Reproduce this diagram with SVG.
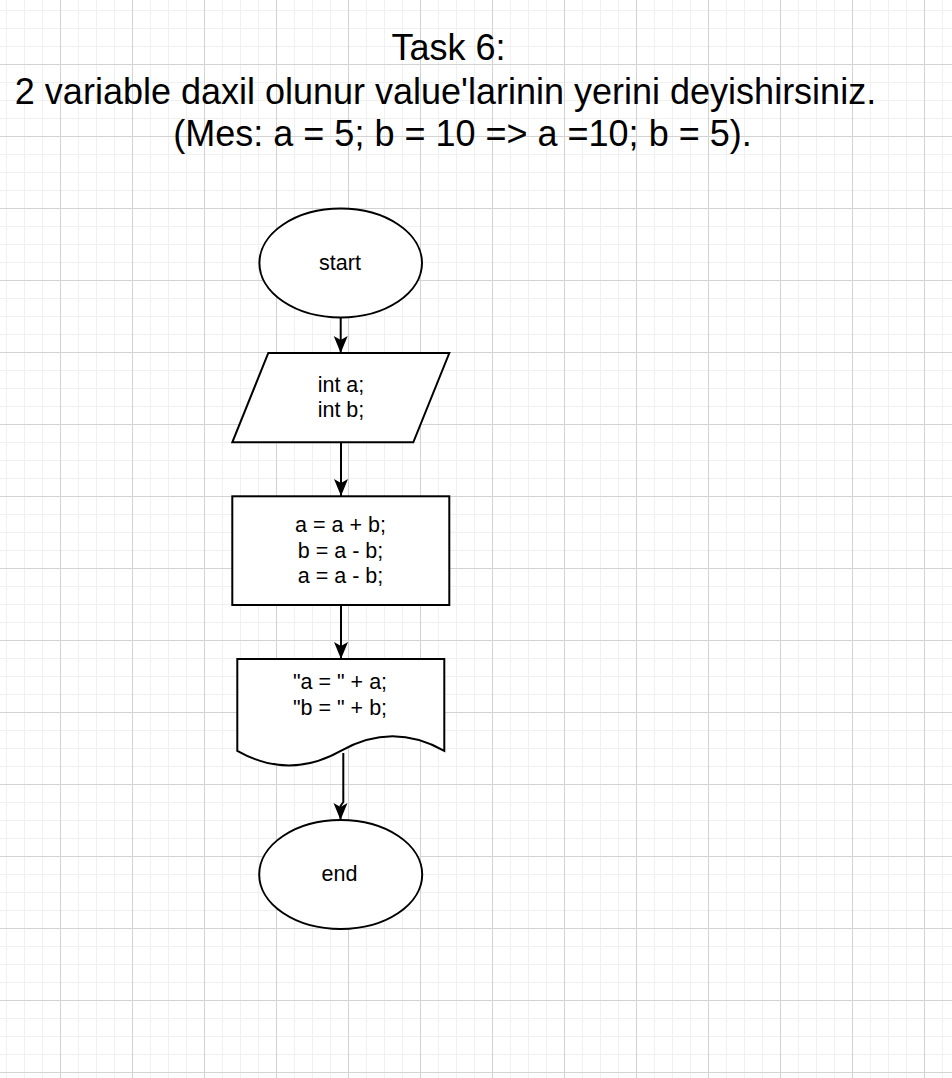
<svg xmlns="http://www.w3.org/2000/svg" width="952" height="1078" viewBox="0 0 952 1078">
<defs>
<pattern id="grid" patternUnits="userSpaceOnUse" x="60" y="64" width="72" height="72">
<rect x="18" y="0" width="1" height="72" fill="#f0f0f0"/>
<rect x="36" y="0" width="1" height="72" fill="#f0f0f0"/>
<rect x="54" y="0" width="1" height="72" fill="#f0f0f0"/>
<rect x="0" y="18" width="72" height="1" fill="#f0f0f0"/>
<rect x="0" y="36" width="72" height="1" fill="#f0f0f0"/>
<rect x="0" y="54" width="72" height="1" fill="#f0f0f0"/>
<rect x="0" y="0" width="1" height="72" fill="#d3d3d3"/>
<rect x="0" y="0" width="72" height="1" fill="#d3d3d3"/>
</pattern>
<marker id="arrow" markerUnits="userSpaceOnUse" markerWidth="20" markerHeight="20" refX="17" refY="7" orient="auto" viewBox="0 0 20 14">
<path d="M17,7 L0,0 L4,7 L0,14 Z" fill="#000"/>
</marker>
</defs>
<style>
.shape { fill: #ffffff; stroke: #000000; stroke-width: 2; }
.edge { fill: none; stroke: #000000; stroke-width: 2; marker-end: url(#arrow); }
.lbl { font-family: "Liberation Sans", Arial, Helvetica, sans-serif; font-size: 21.5px; fill: #000; text-anchor: middle; }
.title { font-family: "Liberation Sans", Arial, Helvetica, sans-serif; font-size: 36px; fill: #000; text-anchor: middle; }
</style>
<rect x="0" y="0" width="952" height="1078" fill="#ffffff"/>
<rect x="0" y="0" width="952" height="1078" fill="url(#grid)"/>

<g id="title">
<text class="title" x="448.5" y="60">Task 6:</text>
<text class="title" x="445.5" y="104">2 variable daxil olunur value'larinin yerini deyishirsiniz.</text>
<text class="title" x="462.5" y="146">(Mes: a = 5; b = 10 =&gt; a =10; b = 5).</text>
</g>

<g id="connectors">
<path class="edge" d="M340.7,317.5 L340.7,353"/>
<path class="edge" d="M341,442.5 L341,496"/>
<path class="edge" d="M341,605 L341,659"/>
<path class="edge" d="M343.3,753 L343.3,802 L340.5,806 L340.5,820"/>
</g>

<g id="start">
<ellipse class="shape" cx="340.7" cy="263" rx="81.3" ry="54.5"/>
<text class="lbl" x="340" y="270">start</text>
</g>

<g id="input">
<polygon class="shape" points="268.3,353 449.3,353 413.3,442.3 232.3,442.3"/>
<text class="lbl" x="341" y="391.7">int a;</text>
<text class="lbl" x="341" y="416.7">int b;</text>
</g>

<g id="process">
<rect class="shape" x="232.3" y="496.3" width="217" height="108.7"/>
<text class="lbl" x="340.5" y="532.3">a = a + b;</text>
<text class="lbl" x="340.5" y="557.7">b = a - b;</text>
<text class="lbl" x="340.5" y="583">a = a - b;</text>
</g>

<g id="output">
<path class="shape" d="M237.3,659 L444.3,659 L444.3,750.8 Q392.6,721.6 340.8,750.8 Q289,780 237.3,750.8 Z"/>
<text class="lbl" x="340" y="689.3">"a = " + a;</text>
<text class="lbl" x="340" y="715">"b = " + b;</text>
</g>

<g id="end">
<ellipse class="shape" cx="340.7" cy="874.5" rx="81.5" ry="54.5"/>
<text class="lbl" x="339.5" y="881">end</text>
</g>
</svg>
